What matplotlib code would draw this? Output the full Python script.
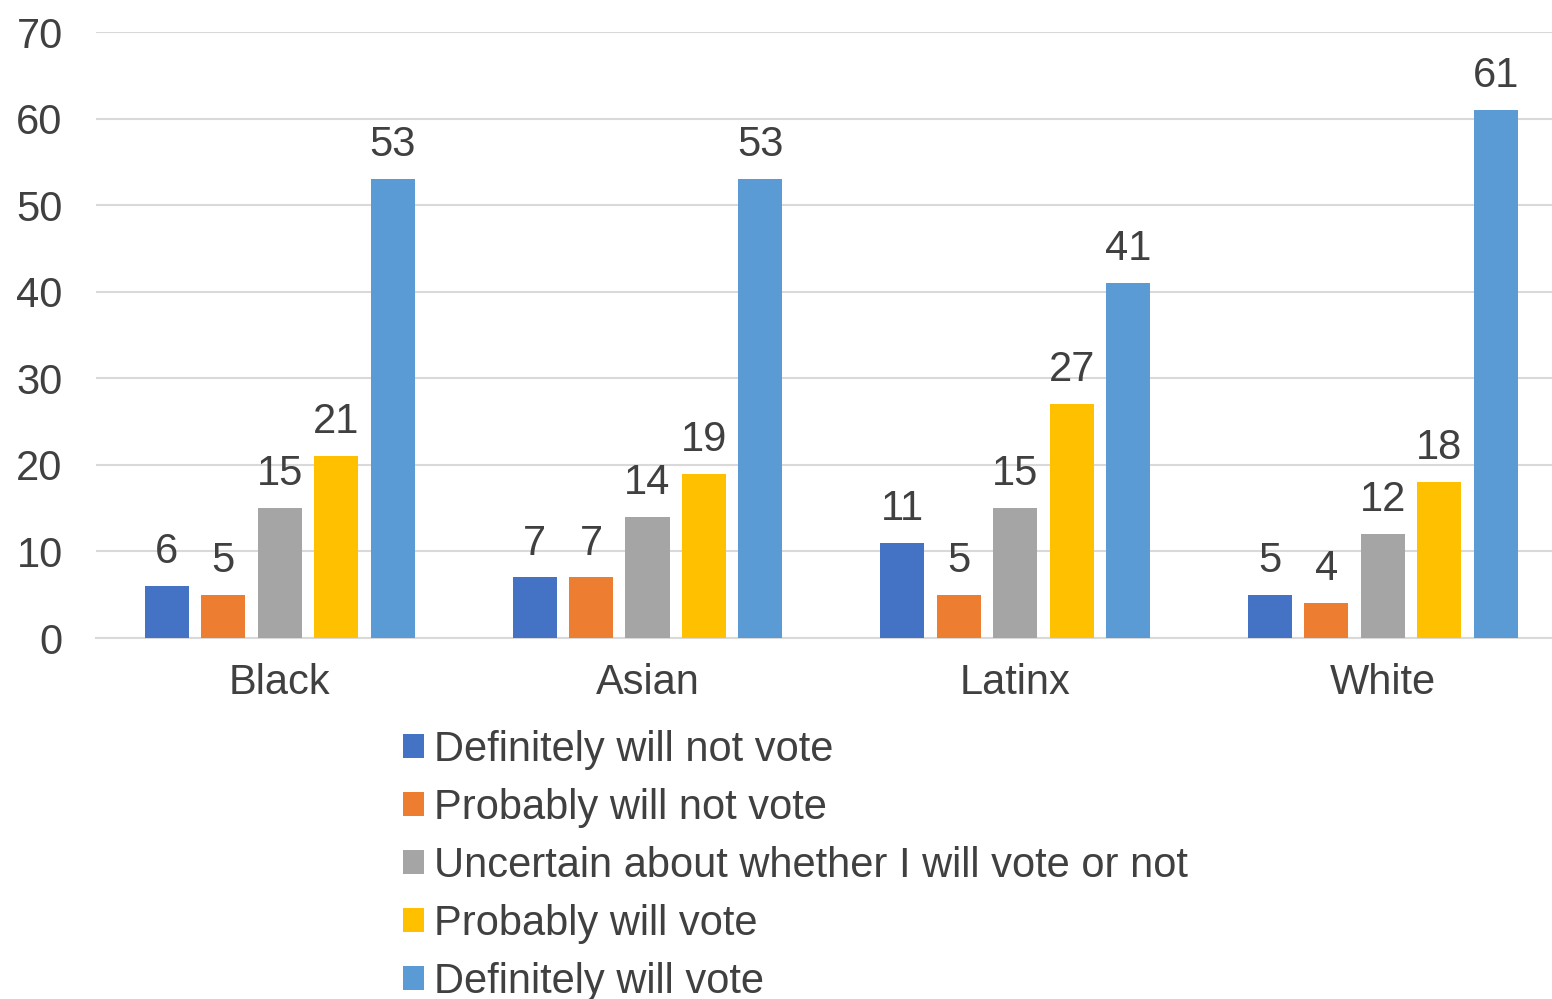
import numpy as np
import matplotlib.pyplot as plt
from matplotlib.patches import Patch

plt.rcParams['font.family'] = ['Liberation Sans', 'DejaVu Sans']

groups = ["Black", "Asian", "Latinx", "White"]
series = ["Definitely will not vote", "Probably will not vote",
          "Uncertain about whether I will vote or not", "Probably will vote",
          "Definitely will vote"]
values = [
    [6, 7, 11, 5],
    [5, 7, 5, 4],
    [15, 14, 15, 12],
    [21, 19, 27, 18],
    [53, 53, 41, 61],
]
colors = ["#4472C4", "#ED7D31", "#A5A5A5", "#FFC000", "#5B9BD5"]
text_color = "#404040"
fs = 30

fig = plt.figure(figsize=(15.52, 9.99), dpi=100)
ax = fig.add_axes([96 / 1552, 1 - 638 / 999, 1 - 96 / 1552, (638 - 32) / 999])

x = np.arange(len(groups))
step = 0.1535
width = 0.12
for i, (name, vals, c) in enumerate(zip(series, values, colors)):
    pos = x + (i - 2) * step
    bars = ax.bar(pos, vals, width, color=c, zorder=3)
    for b, v in zip(bars, vals):
        ax.annotate(str(v), (b.get_x() + b.get_width() / 2, v),
                    xytext=(0, 10), textcoords="offset points",
                    ha="center", va="bottom", fontsize=fs, color=text_color)

ax.set_ylim(0, 70)
ax.set_yticks(range(0, 71, 10))
ax.set_xlim(-0.5, 3.46)
ax.set_xticks(x)
ax.set_xticklabels(groups)
ax.grid(axis="y", color="#d9d9d9", linewidth=1.5, zorder=0)
for s in ["top", "right", "left"]:
    ax.spines[s].set_visible(False)
ax.spines["bottom"].set_color("#d9d9d9")
ax.spines["bottom"].set_linewidth(1.5)
ax.tick_params(axis="both", length=0, labelsize=fs, colors=text_color)
ax.tick_params(axis="y", pad=24)
ax.tick_params(axis="x", pad=18)

handles = [Patch(facecolor=c, label=n) for n, c in zip(series, colors)]
fig.legend(handles=handles, loc="upper left",
           bbox_to_anchor=(403 / 1552, 1 - 730 / 999), frameon=False,
           fontsize=fs, labelcolor=text_color, handlelength=0.5,
           handleheight=0.5, handletextpad=0.25, labelspacing=0.43,
           borderaxespad=0, borderpad=0)

fig.savefig("out.png", dpi=100)
